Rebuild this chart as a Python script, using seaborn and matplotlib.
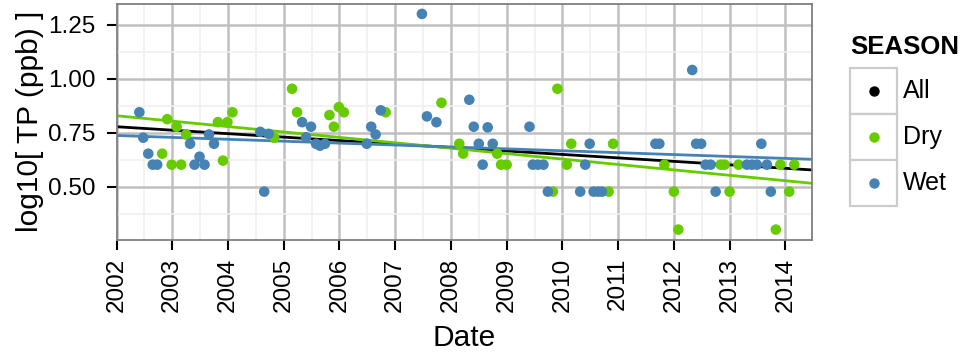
import matplotlib
matplotlib.use("Agg")
import matplotlib.pyplot as plt
import numpy as np
import pandas as pd
import seaborn as sns
from matplotlib.patches import Rectangle
from matplotlib.lines import Line2D
from matplotlib.ticker import FixedLocator, MultipleLocator

# ---------------- data ----------------
dry_dates = [2002.82, 2002.91, 2002.99, 2003.08, 2003.16, 2003.25, 2003.82, 2003.91,
             2003.99, 2004.08, 2004.83, 2005.15, 2005.24, 2005.82, 2005.90, 2005.99,
             2006.08, 2006.83, 2007.83, 2008.15, 2008.22, 2008.83, 2008.90, 2009.00,
             2009.83, 2009.91, 2010.08, 2010.16, 2010.83, 2010.91, 2011.83, 2012.00,
             2012.08, 2012.84, 2012.91, 2013.00, 2013.16, 2013.83, 2013.91, 2014.07,
             2014.16]
dry_tp = [0.653, 0.813, 0.602, 0.778, 0.602, 0.742, 0.799, 0.621,
          0.799, 0.845, 0.727, 0.954, 0.845, 0.832, 0.778, 0.869,
          0.845, 0.845, 0.889, 0.699, 0.653, 0.653, 0.602, 0.602,
          0.477, 0.954, 0.602, 0.699, 0.477, 0.699, 0.602, 0.477,
          0.301, 0.602, 0.602, 0.477, 0.602, 0.301, 0.602, 0.477,
          0.602]

wet_dates = [2002.41, 2002.48, 2002.57, 2002.65, 2002.73, 2003.32, 2003.40, 2003.49,
             2003.58, 2003.66, 2003.75, 2004.58, 2004.65, 2004.73, 2005.33, 2005.40,
             2005.49, 2005.58, 2005.65, 2005.74, 2006.49, 2006.57, 2006.65, 2006.74,
             2007.48, 2007.57, 2007.74, 2008.33, 2008.41, 2008.50, 2008.57, 2008.66,
             2008.75, 2009.41, 2009.47, 2009.56, 2009.66, 2009.74, 2010.32, 2010.41,
             2010.49, 2010.56, 2010.64, 2010.71, 2011.67, 2011.74, 2012.33, 2012.40,
             2012.49, 2012.57, 2012.66, 2012.75, 2013.31, 2013.40, 2013.49, 2013.57,
             2013.67, 2013.74]
wet_tp = [0.845, 0.727, 0.653, 0.602, 0.602, 0.699, 0.602, 0.639,
          0.602, 0.742, 0.699, 0.754, 0.477, 0.745, 0.799, 0.729,
          0.778, 0.699, 0.690, 0.699, 0.699, 0.778, 0.742, 0.854,
          1.301, 0.826, 0.799, 0.903, 0.778, 0.699, 0.602, 0.775,
          0.699, 0.778, 0.602, 0.602, 0.602, 0.477, 0.477, 0.602,
          0.699, 0.477, 0.477, 0.477, 0.699, 0.699, 1.041, 0.699,
          0.699, 0.602, 0.602, 0.477, 0.602, 0.602, 0.602, 0.699,
          0.602, 0.477]

season_labels = ["All", "Dry", "Wet"]
season_colors = ["#000000", "#66CC00", "#4682B4"]
year_ticks = list(range(2002, 2015))
y_ticks = [0.50, 0.75, 1.00, 1.25]
y_tick_labels = ["0.50", "0.75", "1.00", "1.25"]

# ---------------- styling ----------------
sns.set_theme(style="white")
plt.rcParams["font.family"] = ["Liberation Sans", "DejaVu Sans"]

palette = dict(zip(season_labels, season_colors))

df = pd.DataFrame({
    "Date": dry_dates + wet_dates,
    "TP": dry_tp + wet_tp,
    "SEASON": ["Dry"] * len(dry_dates) + ["Wet"] * len(wet_dates),
})

W, H = 966, 360
fig = plt.figure(figsize=(W / 100, H / 100), dpi=100)
fig.patch.set_facecolor("white")

left, right, top, bottom = 116.5, 811.5, 4.0, 239.5
ax = fig.add_axes([left / W, 1 - bottom / H, (right - left) / W, (bottom - top) / H])

xlim = (2002.0, 2014.47)
ylim = (0.255, 1.347)
ax.set_xlim(*xlim)
ax.set_ylim(*ylim)

ax.xaxis.set_major_locator(FixedLocator(year_ticks))
ax.xaxis.set_minor_locator(MultipleLocator(0.5))
ax.yaxis.set_major_locator(FixedLocator(y_ticks))
ax.yaxis.set_minor_locator(MultipleLocator(0.125))
ax.grid(which="major", color="#C0C0C0", linewidth=1.8)
ax.grid(which="minor", color="#EFEFEF", linewidth=1.1)
ax.set_axisbelow(True)

# regression lines (All, Dry, Wet) spanning the full panel
groups = [df, df[df["SEASON"] == "Dry"], df[df["SEASON"] == "Wet"]]
for lab, sub in zip(season_labels, groups):
    sns.regplot(data=sub, x="Date", y="TP", scatter=False, ci=None, truncate=False,
                color=palette[lab], line_kws={"linewidth": 2.0, "zorder": 4}, ax=ax)

sns.scatterplot(data=df, x="Date", y="TP", hue="SEASON",
                palette={k: palette[k] for k in ["Dry", "Wet"]},
                s=58, edgecolor="none", linewidth=0, legend=False, ax=ax, zorder=5)

ax.set_xlim(*xlim)
ax.set_ylim(*ylim)

ax.set_xticks(year_ticks)
ax.set_xticklabels([str(y) for y in year_ticks], rotation=90, fontsize=17.5, color="black")
ax.set_yticks(y_ticks)
ax.set_yticklabels(y_tick_labels, fontsize=17.5, color="black")
ax.tick_params(axis="x", which="major", direction="out", length=7, width=1.5, color="black",
               pad=6, bottom=True)
ax.tick_params(axis="y", which="major", direction="out", length=7.5, width=1.5, color="black",
               pad=7.5, left=True)
ax.tick_params(which="minor", length=0)

for sp in ax.spines.values():
    sp.set_color("#7F7F7F")
    sp.set_linewidth(1.3)
    sp.set_zorder(6)

ax.set_xlabel("Date", fontsize=21.5, color="black", labelpad=9)
ax.set_ylabel("log10[ TP (ppb) ]", fontsize=21.5, color="black", labelpad=3)

# ---------------- legend (ggplot-like keys) ----------------
def fx(x):
    return x / W

def fy(y):
    return 1 - y / H

fig.text(fx(850), fy(47), "SEASON", fontsize=18.5, fontweight="bold", ha="left", va="center",
         color="black")
key_x0, key_x1 = 850.0, 897.0
key_y0, key_h = 68.0, 46.0
for i, lab in enumerate(season_labels):
    y0 = key_y0 + i * key_h
    fig.add_artist(Rectangle((fx(key_x0), fy(y0 + key_h)), (key_x1 - key_x0) / W, key_h / H,
                             transform=fig.transFigure, facecolor="white",
                             edgecolor="#CCCCCC", linewidth=1.6))
    cy = y0 + key_h / 2
    fig.add_artist(Line2D([fx((key_x0 + key_x1) / 2)], [fy(cy)], marker="o", markersize=7.5,
                          markerfacecolor=palette[lab], markeredgecolor="none",
                          linestyle="none", transform=fig.transFigure))
    fig.text(fx(903), fy(cy), lab, fontsize=18, ha="left", va="center", color="black")

fig.savefig("out.png", dpi=100, facecolor="white")
